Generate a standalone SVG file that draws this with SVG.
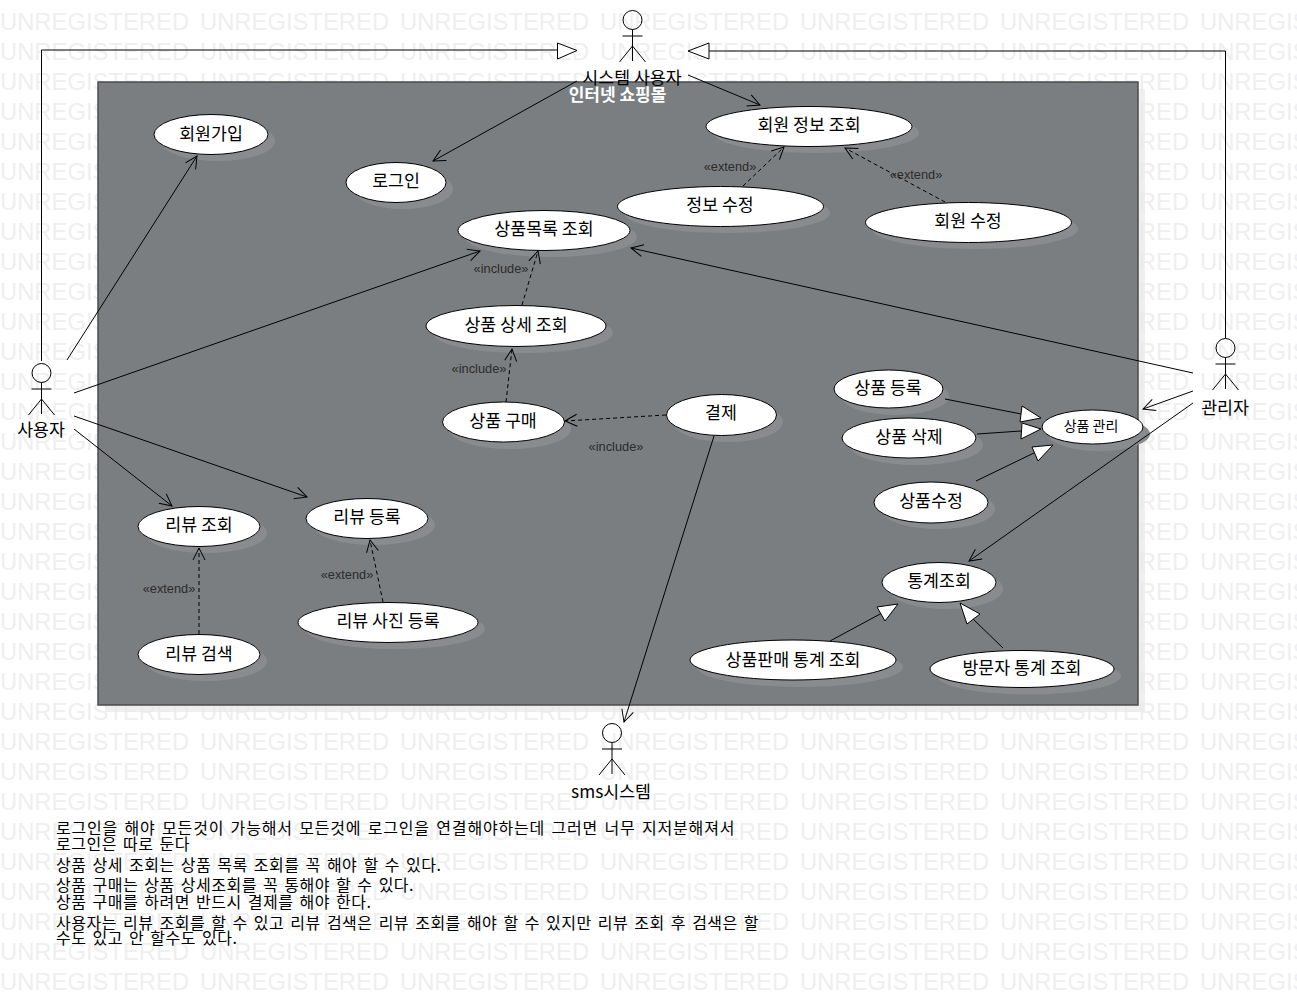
<svg xmlns="http://www.w3.org/2000/svg" xmlns:xlink="http://www.w3.org/1999/xlink" width="1297" height="1002" viewBox="0 0 1297 1002">
<style>
text{font-family:"Noto Sans CJK KR","Liberation Sans",sans-serif;fill:#000}
.wm{font-family:"Liberation Sans",sans-serif;font-size:23.8px;fill:#efefef}
.uc{fill:#fff;stroke:#000;stroke-width:1}
.sh{fill:#898b8e}
.n{font-size:17.3px;text-anchor:middle}
.s{font-size:14px;text-anchor:middle}
.st{font-family:"Liberation Sans",sans-serif;font-size:12.8px;fill:#2b2b2b;text-anchor:middle}
.c{fill:none;stroke:#000;stroke-width:1}
.d{stroke-dasharray:4 3}
.t{fill:#fff;stroke:#000;stroke-width:1}
.a{fill:none;stroke:#000;stroke-width:1}
.note{font-size:16px;letter-spacing:.5px;word-spacing:2px}
</style>
<defs>
<marker id="open" markerUnits="userSpaceOnUse" markerWidth="16" markerHeight="16" refX="13" refY="7" orient="auto"><path d="M1 1L13 7L1 13" fill="none" stroke="#000"/></marker>
<text id="wmrow" class="wm"><tspan x="0">UNREGISTERED</tspan><tspan x="200">UNREGISTERED</tspan><tspan x="400">UNREGISTERED</tspan><tspan x="600">UNREGISTERED</tspan><tspan x="800">UNREGISTERED</tspan><tspan x="1000">UNREGISTERED</tspan><tspan x="1200">UNREGISTERED</tspan></text>
<g id="stick" class="a"><circle cx="0" cy="0" r="9.5"/><path d="M0 9.5V41M-10 16H10M0 26L-13 42M0 26L13 42"/></g>
</defs>
<rect width="1297" height="1002" fill="#fff"/>
<g id="watermark">
<use xlink:href="#wmrow" y="30"/><use xlink:href="#wmrow" y="60"/><use xlink:href="#wmrow" y="90"/><use xlink:href="#wmrow" y="120"/><use xlink:href="#wmrow" y="150"/><use xlink:href="#wmrow" y="180"/><use xlink:href="#wmrow" y="210"/><use xlink:href="#wmrow" y="240"/><use xlink:href="#wmrow" y="270"/><use xlink:href="#wmrow" y="300"/><use xlink:href="#wmrow" y="330"/><use xlink:href="#wmrow" y="360"/><use xlink:href="#wmrow" y="390"/><use xlink:href="#wmrow" y="420"/><use xlink:href="#wmrow" y="450"/><use xlink:href="#wmrow" y="480"/><use xlink:href="#wmrow" y="510"/><use xlink:href="#wmrow" y="540"/><use xlink:href="#wmrow" y="570"/><use xlink:href="#wmrow" y="600"/><use xlink:href="#wmrow" y="630"/><use xlink:href="#wmrow" y="660"/><use xlink:href="#wmrow" y="690"/><use xlink:href="#wmrow" y="720"/><use xlink:href="#wmrow" y="750"/><use xlink:href="#wmrow" y="780"/><use xlink:href="#wmrow" y="810"/><use xlink:href="#wmrow" y="840"/><use xlink:href="#wmrow" y="870"/><use xlink:href="#wmrow" y="900"/><use xlink:href="#wmrow" y="930"/><use xlink:href="#wmrow" y="960"/><use xlink:href="#wmrow" y="990"/>
</g>
<g id="system">
<rect x="105" y="89" width="1040" height="623" fill="#e8e8e8" opacity=".7"/>
<rect x="98" y="82" width="1040" height="623" fill="#7b7e81" stroke="#4a4c4e" stroke-width="1.5"/>
<text x="617.5" y="101" font-size="17" font-weight="700" text-anchor="middle" style="fill:#fff">인터넷 쇼핑몰</text>
</g>
<g id="n1"><ellipse class="sh" cx="218" cy="141" rx="57" ry="20"/><ellipse class="uc" cx="211" cy="134.500" rx="57" ry="20"/><text class="n" x="211" y="140">회원가입</text></g>
<g id="n2"><ellipse class="sh" cx="403" cy="189" rx="50" ry="20"/><ellipse class="uc" cx="396" cy="182.500" rx="50" ry="20"/><text class="n" x="396" y="187">로그인</text></g>
<g id="n3"><ellipse class="sh" cx="816" cy="133" rx="103" ry="20"/><ellipse class="uc" cx="809" cy="126.500" rx="103" ry="20"/><text class="n" x="809" y="131">회원 정보 조회</text></g>
<g id="n4"><ellipse class="sh" cx="727" cy="213" rx="103" ry="20"/><ellipse class="uc" cx="720.500" cy="206.500" rx="103" ry="20"/><text class="n" x="720" y="211">정보 수정</text></g>
<g id="n5"><ellipse class="sh" cx="975" cy="229" rx="103" ry="20"/><ellipse class="uc" cx="968.500" cy="222.500" rx="103" ry="20"/><text class="n" x="968" y="227">회원 수정</text></g>
<g id="n6"><ellipse class="sh" cx="551" cy="237" rx="86" ry="20"/><ellipse class="uc" cx="544" cy="230.500" rx="86" ry="20"/><text class="n" x="544" y="235">상품목록 조회</text></g>
<g id="n7"><ellipse class="sh" cx="523" cy="333" rx="90" ry="20"/><ellipse class="uc" cx="516" cy="326" rx="90" ry="20.500"/><text class="n" x="516" y="331">상품 상세 조회</text></g>
<g id="n8"><ellipse class="sh" cx="510" cy="429" rx="61" ry="20"/><ellipse class="uc" cx="503.500" cy="422" rx="61" ry="20"/><text class="n" x="503" y="427">상품 구매</text></g>
<g id="n9"><ellipse class="sh" cx="728" cy="422" rx="55" ry="20"/><ellipse class="uc" cx="721.500" cy="415" rx="55" ry="20.500"/><text class="n" x="721" y="419">결제</text></g>
<g id="n10"><ellipse class="sh" cx="895" cy="396" rx="54" ry="19"/><ellipse class="uc" cx="888.500" cy="389" rx="54.500" ry="19"/><text class="n" x="888" y="394">상품 등록</text></g>
<g id="n11"><ellipse class="sh" cx="916" cy="445" rx="67" ry="20"/><ellipse class="uc" cx="909" cy="438" rx="67" ry="20"/><text class="n" x="909" y="443">상품 삭제</text></g>
<g id="n12"><ellipse class="sh" cx="1099" cy="434" rx="51" ry="17"/><ellipse class="uc" cx="1092.500" cy="427" rx="50.500" ry="17"/><text class="s" x="1091" y="431">상품 관리</text></g>
<g id="n13"><ellipse class="sh" cx="938" cy="509" rx="57" ry="20"/><ellipse class="uc" cx="931" cy="502.500" rx="57" ry="20.500"/><text class="n" x="931" y="507">상품수정</text></g>
<g id="n14"><ellipse class="sh" cx="946" cy="589" rx="57" ry="20"/><ellipse class="uc" cx="939" cy="582.500" rx="57" ry="20"/><text class="n" x="939" y="587">통계조회</text></g>
<g id="n15"><ellipse class="sh" cx="1029" cy="676" rx="92" ry="18.500"/><ellipse class="uc" cx="1022" cy="669" rx="92" ry="18.500"/><text class="n" x="1022" y="674">방문자 통계 조회</text></g>
<g id="n16"><ellipse class="sh" cx="800" cy="667" rx="103" ry="20"/><ellipse class="uc" cx="793" cy="660" rx="103" ry="20"/><text class="n" x="793" y="666">상품판매 통계 조회</text></g>
<g id="n17"><ellipse class="sh" cx="206" cy="533" rx="61" ry="20"/><ellipse class="uc" cx="199" cy="526.500" rx="61" ry="20"/><text class="n" x="199" y="531">리뷰 조회</text></g>
<g id="n18"><ellipse class="sh" cx="374" cy="525" rx="61" ry="20"/><ellipse class="uc" cx="367" cy="518.500" rx="61" ry="20"/><text class="n" x="367" y="523">리뷰 등록</text></g>
<g id="n19"><ellipse class="sh" cx="206" cy="661" rx="61" ry="20"/><ellipse class="uc" cx="199" cy="654.500" rx="61" ry="20"/><text class="n" x="199" y="660">리뷰 검색</text></g>
<g id="n20"><ellipse class="sh" cx="395" cy="629" rx="90" ry="20"/><ellipse class="uc" cx="388" cy="622.500" rx="90" ry="20"/><text class="n" x="388" y="627">리뷰 사진 등록</text></g>
<g id="connectors">
<path class="c" d="M41.500 361V50H558"/><polygon class="t" points="557.500,43 577,50.500 557.500,59"/>
<path class="c" d="M1225.500 338V51H709"/><polygon class="t" points="709,43 688,51 709,59"/>
<path class="c" marker-end="url(#open)" d="M688 75L760 105"/>
<path class="c" marker-end="url(#open)" d="M577 81L433 161"/>
<path class="c" marker-end="url(#open)" d="M67 360L197 156"/>
<path class="c" marker-end="url(#open)" d="M74 393L480 251"/>
<path class="c" marker-end="url(#open)" d="M74 416L307 497"/>
<path class="c" marker-end="url(#open)" d="M74 429L172 506"/>
<path class="c" marker-end="url(#open)" d="M1193 373L631 248"/>
<path class="c" marker-end="url(#open)" d="M1193 391L1143 409"/>
<path class="c" marker-end="url(#open)" d="M1193 403L969 561"/>
<path class="c" marker-end="url(#open)" d="M714 436L624 722"/>
<path class="c d" marker-end="url(#open)" d="M743 186L784 147"/>
<path class="c d" marker-end="url(#open)" d="M945 202L845 148"/>
<path class="c d" marker-end="url(#open)" d="M522 305L538 251"/>
<path class="c d" marker-end="url(#open)" d="M506 402L512 349"/>
<path class="c d" marker-end="url(#open)" d="M666 415L565 421"/>
<path class="c d" marker-end="url(#open)" d="M199 634V548"/>
<path class="c d" marker-end="url(#open)" d="M383 602L370 540"/>
<path class="c" d="M945 399L1021 414"/><polygon class="t" points="1022,406 1020,422 1041,418"/>
<path class="c" d="M977 434L1021 431"/><polygon class="t" points="1022,423 1021,439 1041,429"/>
<path class="c" d="M976 481L1036 452"/><polygon class="t" points="1032,447 1038,461 1053,445"/>
<path class="c" d="M830 641L882 613"/><polygon class="t" points="877,607 885,621 898,604"/>
<path class="c" d="M1003 648L973 619"/><polygon class="t" points="960,603 967,624 980,614"/>
</g>
<g id="connector-labels">
<text class="st" x="730" y="171">«extend»</text>
<text class="st" x="916" y="179">«extend»</text>
<text class="st" x="501" y="273">«include»</text>
<text class="st" x="479" y="373">«include»</text>
<text class="st" x="616" y="451">«include»</text>
<text class="st" x="169" y="593">«extend»</text>
<text class="st" x="347" y="579">«extend»</text>
</g>
<g id="actor-system"><use xlink:href="#stick" x="632.500" y="20"/><text class="n" x="632" y="84">시스템 사용자</text></g>
<g id="actor-user"><use xlink:href="#stick" x="41.500" y="373"/><text class="n" x="41" y="436">사용자</text></g>
<g id="actor-admin"><use xlink:href="#stick" x="1225.500" y="348"/><text class="n" x="1225" y="414">관리자</text></g>
<g id="actor-sms"><use xlink:href="#stick" x="612" y="733"/><text class="n" x="611" y="798">sms시스템</text></g>
<g id="note">
<text class="note" x="56" y="834" style="letter-spacing:.82px">로그인을 해야 모든것이 가능해서 모든것에 로그인을 연결해야하는데 그러면 너무 지저분해져서</text>
<text class="note" x="56" y="850">로그인은 따로 둔다</text>
<text class="note" x="56" y="871">상품 상세 조회는 상품 목록 조회를 꼭 해야 할 수 있다.</text>
<text class="note" x="56" y="891">상품 구매는 상품 상세조회를 꼭 통해야 할 수 있다.</text>
<text class="note" x="56" y="908">상품 구매를 하려면 반드시 결제를 해야 한다.</text>
<text class="note" x="56" y="929">사용자는 리뷰 조회를 할 수 있고 리뷰 검색은 리뷰 조회를 해야 할 수 있지만 리뷰 조회 후 검색은 할</text>
<text class="note" x="56" y="944">수도 있고 안 할수도 있다.</text>
</g>
</svg>
